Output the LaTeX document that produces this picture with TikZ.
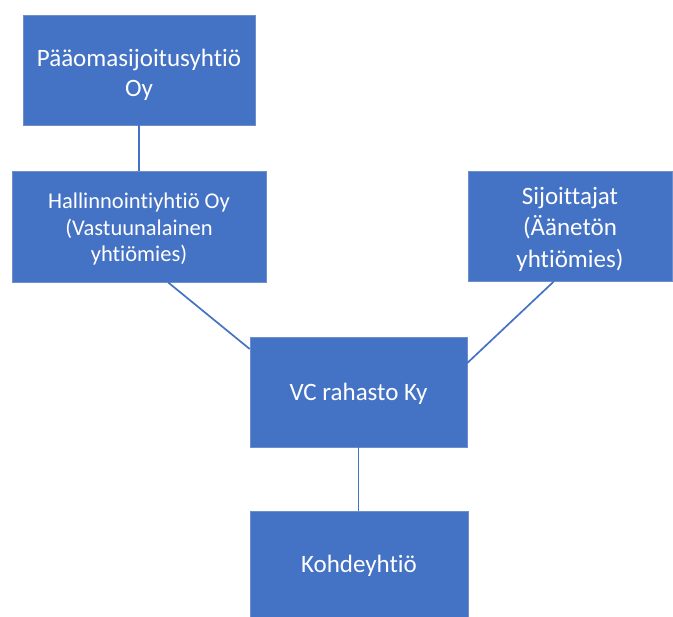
\documentclass[tikz,border=0pt]{standalone}
\usepackage{fontspec}
\setmainfont{Carlito}[Ligatures=NoCommon]
\definecolor{boxfill}{HTML}{4472C4}
\definecolor{boxedge}{HTML}{6E8FCB}
\definecolor{linkcol}{HTML}{4472C4}
\begin{document}
\begin{tikzpicture}[x=1pt,y=-1pt,
  orgbox/.style={rectangle,fill=boxfill,draw=boxedge,line width=0.6pt,inner sep=0pt},
  boxtext/.style={text=white,align=center,inner sep=0pt},
  link/.style={draw=linkcol,line width=1.7pt}]
\useasboundingbox (0,0) rectangle (673,617);
\clip (0,0) rectangle (673,617);
\node[orgbox,minimum width=232pt,minimum height=110pt] (pa) at (139,70) {};
\node[orgbox,minimum width=254pt,minimum height=111pt] (hal) at (139,226.5) {};
\node[orgbox,minimum width=204pt,minimum height=110pt] (sij) at (570,226) {};
\node[orgbox,minimum width=217pt,minimum height=110pt] (vc) at (358.5,392) {};
\node[orgbox,minimum width=218pt,minimum height=106pt] (ko) at (359,564) {};
\node[boxtext,font=\fontsize{25}{30}\selectfont] (pat) at ([yshift=-5pt]pa.center) {Pääomasijoitusyhtiö\\Oy};
\node[boxtext,font=\fontsize{22.5}{26.5}\selectfont] (halt) at ([yshift=-3pt]hal.center) {Hallinnointiyhtiö Oy\\(Vastuunalainen\\yhtiömies)};
\node[boxtext,font=\fontsize{25}{31.5}\selectfont] (sijt) at ([yshift=-3pt]sij.center) {Sijoittajat\\(Äänetön\\yhtiömies)};
\node[boxtext,font=\fontsize{25}{30}\selectfont] (vct) at ([yshift=-2pt]vc.center) {VC rahasto Ky};
\node[boxtext,font=\fontsize{25}{30}\selectfont] (kot) at ([yshift=-2pt]ko.center) {Kohdeyhtiö};
\draw[link] (pa.south) -- (hal.north);
\draw[link] ([xshift=29pt]hal.south) -- ([yshift=43pt]vc.west);
\draw[link] ([xshift=-16pt]sij.south) -- ([yshift=29pt]vc.east);
\draw[link] (vc.south) -- (vc.south |- ko.north);
\end{tikzpicture}
\end{document}
